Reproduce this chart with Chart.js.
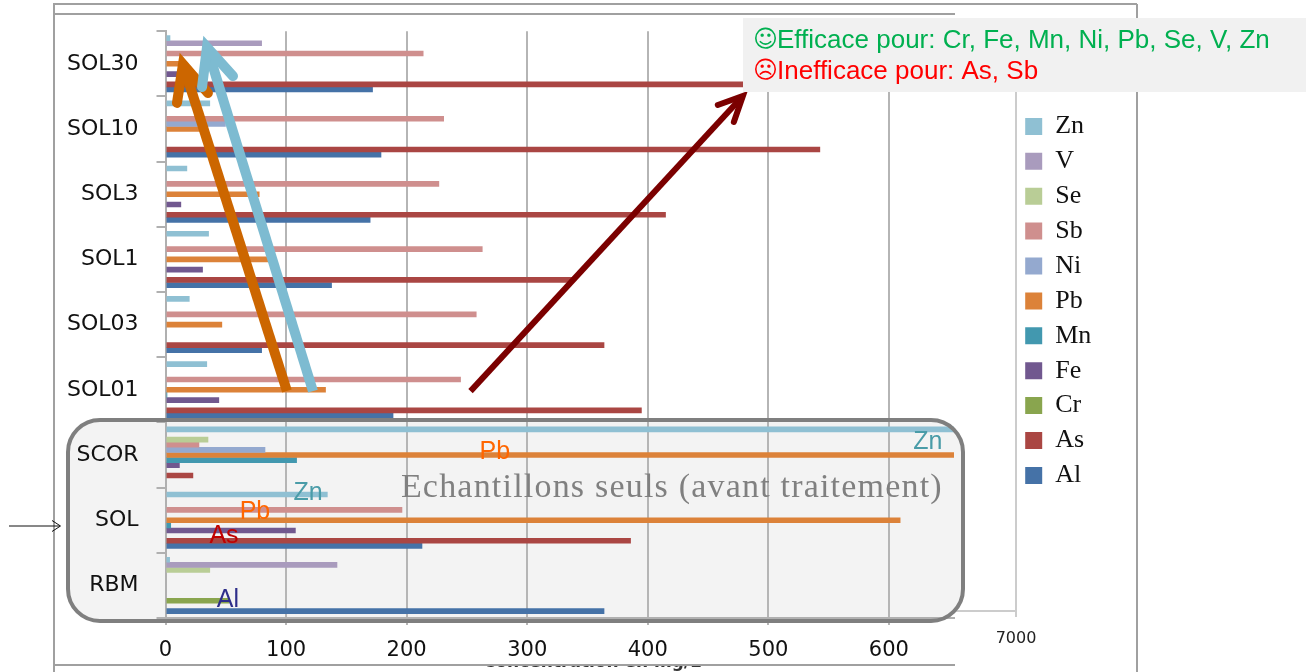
<!DOCTYPE html>
<html>
<head>
<meta charset="utf-8">
<script src="https://cdn.jsdelivr.net/npm/chart.js@4"></script>
<style>
  body { margin: 0; background: #fff; }
  canvas { display: block; }
</style>
</head>
<body>
<canvas id="chart" width="1310" height="672"></canvas>
<script>
const categories = ["SOL30", "SOL10", "SOL3", "SOL1", "SOL03", "SOL01", "SCOR", "SOL", "RBM"];

const zn = [4, 37, 18, 36, 20, 34.5, 660, 134.5, 3.7];
const vanadium = [80, null, null, null, null, null, null, null, 142.5];
const se = [null, null, null, null, null, null, 35.5, null, 37];
const sb = [214, 231, 227, 263, 258, 245, 28, 196.4, null];
const ni = [null, 50, null, null, null, null, 82.8, null, null];
const pb = [17, 29, 78, 86, 47, 133, 654, 609.6, null];
const mn = [null, null, null, null, null, 1.5, 109, 4.6, null];
const fe = [12, null, 13, 31, null, 44.5, 11.8, 108, null];
const cr = [null, null, null, null, null, null, null, null, 53];
const arsenic = [505, 543, 415, 338, 364, 395, 23, 386, null];
const al = [172, 179, 170, 138, 80, 189, null, 213, 364];

const seriesNames = ["Zn", "V", "Se", "Sb", "Ni", "Pb", "Mn", "Fe", "Cr", "As", "Al"];
const seriesValues = [zn, vanadium, se, sb, ni, pb, mn, fe, cr, arsenic, al];
const seriesColors = ["#8fc0d3", "#a99bbd", "#b9cd96", "#cf8f8e", "#94a9cf", "#dc8239", "#4298af", "#71588f", "#89a54e", "#aa4643", "#4572a7"];

// fleches et etiquettes posees sur le graphique, en unites des axes (valeur, rang de categorie)
const arrows = [
    { color: "#cc6600", width: 10, tail: [100.7, 5.02], tip: [14.5, 0.005], wings: [[9.5, 0.6], [35.2, 0.448]] },
    { color: "#7dbbd1", width: 10, tail: [122.3, 5.02], tip: [34.4, -0.255], wings: [[30.3, 0.356], [56, 0.188]] },
    { color: "#7b0000", width: 6, tail: [253, 5.02], tip: [478.9, 0.494], wings: [[458.1, 0.632], [471.4, 0.892]] }
];
const notes = [
    { text: "Zn", v: 632.3, cat: 5.8, color: "#4a9ca8" },
    { text: "Pb", v: 273.2, cat: 5.95, color: "#ff6600" },
    { text: "Zn", v: 118.2, cat: 6.58, color: "#4a9ca8" },
    { text: "Pb", v: 74.2, cat: 6.87, color: "#ff6600" },
    { text: "As", v: 48.5, cat: 7.25, color: "#c00000" },
    { text: "Al", v: 51.8, cat: 8.23, color: "#2e2e8a" }
];

function line(ctx, x1, y1, x2, y2) {
    ctx.beginPath();
    ctx.moveTo(x1, y1);
    ctx.lineTo(x2, y2);
    ctx.stroke();
}

function roundedBox(ctx) {
    ctx.beginPath();
    ctx.roundRect(68, 420, 895, 201, 32);
}

const decorations = {
    id: "decorations",
    afterLayout(chart) {
        // la legende reste dans le cadre, a droite de l'ancien bord du graphique
        const l = chart.legend;
        l.left = 1016.3;
        l.right = 1130;
        l.top = 101.8;
        l.bottom = 500;
    },
    beforeDraw(chart) {
        const ctx = chart.ctx;
        ctx.save();
        ctx.fillStyle = "#fff";
        ctx.fillRect(0, 0, 1310, 672);

        ctx.strokeStyle = "#a0a0a0";
        ctx.lineWidth = 2;
        line(ctx, 54, 3, 54, 672);
        line(ctx, 53, 4, 1137, 4);
        line(ctx, 54, 14, 955, 14);
        line(ctx, 54, 665, 955, 665);
        line(ctx, 1137, 4, 1137, 672);

        ctx.strokeStyle = "#cccccc";
        line(ctx, 1016, 92, 1016, 617);
        line(ctx, 955, 611, 1016, 611);

        ctx.fillStyle = "#f3f3f3";
        roundedBox(ctx);
        ctx.fill();

        // titre de l'axe, coupe par le bord du cadre
        ctx.save();
        ctx.beginPath();
        ctx.rect(460, 666, 260, 6);
        ctx.clip();
        ctx.fillStyle = "#333";
        ctx.font = "bold 17px 'DejaVu Sans'";
        ctx.textAlign = "center";
        ctx.fillText("Concentration en mg/L", 592, 667);
        ctx.restore();

        ctx.fillStyle = "#222";
        ctx.font = "16px 'DejaVu Sans'";
        ctx.textAlign = "center";
        ctx.textBaseline = "middle";
        ctx.fillText("7000", 1016, 639);
        ctx.restore();
    },
    afterDraw(chart) {
        const ctx = chart.ctx;
        const x = chart.scales.x;
        const y = chart.scales.y;
        const pt = p => [x.getPixelForValue(p[0]), y.getPixelForValue(p[1])];
        ctx.save();

        ctx.strokeStyle = "#7f7f7f";
        ctx.lineWidth = 4;
        roundedBox(ctx);
        ctx.stroke();

        ctx.textAlign = "center";
        ctx.textBaseline = "middle";
        ctx.font = "34px 'Liberation Serif'";
        ctx.letterSpacing = "1.2px";
        ctx.fillStyle = "#808080";
        ctx.fillText("Echantillons seuls (avant traitement)", x.getPixelForValue(420), y.getPixelForValue(6.5));
        ctx.letterSpacing = "0px";

        ctx.font = "25px 'Liberation Sans'";
        notes.forEach(n => {
            ctx.fillStyle = n.color;
            ctx.fillText(n.text, x.getPixelForValue(n.v), y.getPixelForValue(n.cat));
        });

        arrows.forEach(a => {
            const tail = pt(a.tail);
            const tip = pt(a.tip);
            const w1 = pt(a.wings[0]);
            const w2 = pt(a.wings[1]);
            ctx.strokeStyle = a.color;
            ctx.lineWidth = a.width;
            ctx.lineCap = "butt";
            line(ctx, tail[0], tail[1], tip[0], tip[1]);
            ctx.lineCap = "round";
            ctx.lineJoin = "miter";
            ctx.beginPath();
            ctx.moveTo(w1[0], w1[1]);
            ctx.lineTo(tip[0], tip[1]);
            ctx.lineTo(w2[0], w2[1]);
            ctx.stroke();
        });

        // fleche fine a gauche
        ctx.strokeStyle = "#111";
        ctx.lineWidth = 1;
        ctx.lineCap = "butt";
        line(ctx, 9, 526, 60, 526);
        ctx.beginPath();
        ctx.moveTo(52, 520.5);
        ctx.lineTo(60.5, 526);
        ctx.lineTo(52, 531.5);
        ctx.stroke();

        ctx.fillStyle = "#f1f1f1";
        ctx.fillRect(743, 18, 563, 74);
        ctx.textAlign = "left";
        ctx.font = "24px 'DejaVu Sans'";
        ctx.fillStyle = "#00b050";
        ctx.fillText("☺", 753, 41);
        ctx.fillStyle = "#ff0000";
        ctx.fillText("☹", 753, 72);
        ctx.font = "26px 'Liberation Sans'";
        ctx.fillStyle = "#00b050";
        ctx.fillText("Efficace pour: Cr, Fe, Mn, Ni, Pb, Se, V, Zn", 777, 41);
        ctx.fillStyle = "#ff0000";
        ctx.fillText("Inefficace pour: As, Sb", 777, 72);
        ctx.restore();
    }
};

new Chart(document.getElementById("chart"), {
    type: "bar",
    data: {
        labels: categories,
        datasets: seriesNames.map((name, i) => ({
            label: name,
            data: seriesValues[i],
            backgroundColor: seriesColors[i],
            categoryPercentage: 0.866,
            barPercentage: 1.1
        }))
    },
    options: {
        indexAxis: "y",
        responsive: false,
        animation: false,
        layout: { padding: { top: 29, right: 276, left: 0, bottom: 0 } },
        plugins: {
            title: { display: false },
            tooltip: { enabled: false },
            legend: {
                position: "right",
                maxWidth: 80,
                labels: {
                    color: "#111",
                    boxWidth: 17,
                    boxHeight: 17,
                    padding: 8.9,
                    font: { family: "'Liberation Serif'", size: 26 }
                }
            }
        },
        scales: {
            x: {
                min: 0,
                max: 654,
                afterFit: s => { s.height = 54; },
                afterBuildTicks: s => { s.ticks = s.ticks.filter(t => t.value % 100 === 0); },
                ticks: {
                    stepSize: 100,
                    color: "#111",
                    padding: 13,
                    font: { family: "'DejaVu Sans'", size: 21 }
                },
                grid: { color: "#b5b5b5", lineWidth: 2, tickLength: 7 },
                border: { color: "#b0b0b0", width: 2 }
            },
            y: {
                afterFit: s => { s.width = 165.5; },
                ticks: {
                    color: "#111",
                    padding: 18,
                    autoSkip: false,
                    font: { family: "'DejaVu Sans'", size: 22 }
                },
                grid: { drawOnChartArea: false, color: "#b0b0b0", lineWidth: 2, tickLength: 9 },
                border: { color: "#b0b0b0", width: 2 }
            }
        }
    },
    plugins: [decorations]
});
</script>
</body>
</html>
